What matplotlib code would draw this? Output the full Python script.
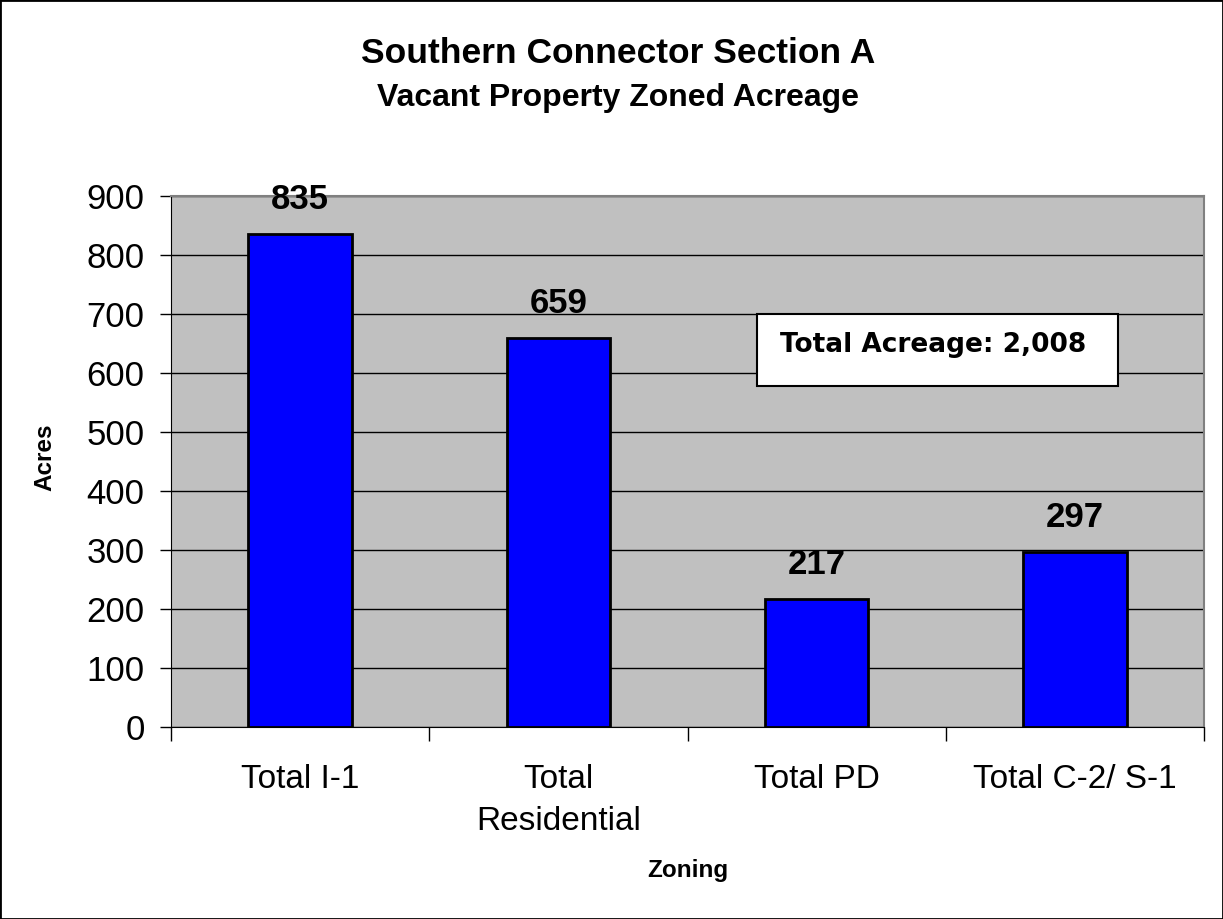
import matplotlib
matplotlib.use("Agg")
import matplotlib.pyplot as plt
from matplotlib.patches import Rectangle

categories = ["Total I-1", "Total\nResidential", "Total PD", "Total C-2/ S-1"]
values = [835, 659, 217, 297]
yticks = [0, 100, 200, 300, 400, 500, 600, 700, 800, 900]
title_lines = ["Southern Connector Section A", "Vacant Property Zoned Acreage"]
total_text = "Total Acreage: 2,008"

plt.rcParams['font.family'] = ['Liberation Sans', 'DejaVu Sans']

W, H = 1223, 919
fig = plt.figure(figsize=(W/100, H/100), dpi=100)
ax = fig.add_axes([171/W, 1 - 727/H, (1204-171)/W, (727-196)/H])
ax.set_facecolor('#C0C0C0')

x = list(range(len(categories)))
ax.bar(x, values, width=0.4, color='#0000FF', edgecolor='black', linewidth=2, zorder=3)
for xi, v in zip(x, values):
    ax.annotate(f"{v}", (xi, v), xytext=(0, 18), textcoords='offset points',
                ha='center', va='baseline', fontsize=25, fontweight='bold', zorder=4)

ax.set_xlim(-0.5, len(categories) - 0.5)
ax.set_ylim(0, 900)
ax.set_yticks(yticks)
ax.set_yticklabels([str(t) for t in yticks], fontsize=25)
ax.yaxis.grid(True, color='black', linewidth=1)
ax.set_axisbelow(True)
ax.tick_params(axis='y', direction='out', length=8, width=1, pad=11)

ax.set_xticks(x)
ax.set_xticklabels(categories, fontsize=24, linespacing=1.45)
ax.set_xticks([i - 0.5 for i in range(len(categories) + 1)], minor=True)
ax.tick_params(axis='x', which='major', length=0, pad=27)
ax.tick_params(axis='x', which='minor', length=10, width=1, direction='out')

for s in ['top', 'right']:
    ax.spines[s].set_color('#808080')
    ax.spines[s].set_linewidth(1.5)
ax.spines['left'].set_color('black')
ax.spines['bottom'].set_color('black')

fig.text(45/W, 1 - 457/H, "Acres", rotation=90, ha='center', va='center',
         fontsize=17.5, fontweight='bold')
fig.text(688/W, 1 - 877/H, "Zoning", ha='center', va='baseline',
         fontsize=17.5, fontweight='bold')

fig.text(618/W, 1 - 63/H, title_lines[0], ha='center', va='baseline',
         fontsize=25.5, fontweight='bold')
fig.text(618/W, 1 - 106/H, title_lines[1], ha='center', va='baseline',
         fontsize=23, fontweight='bold')

# total acreage box
bx0, bx1, by0, by1 = 757, 1118, 314, 386
fig.patches.append(Rectangle((bx0/W, 1 - by1/H), (bx1-bx0)/W, (by1-by0)/H,
                             transform=fig.transFigure, facecolor='white',
                             edgecolor='black', linewidth=1.5, zorder=5))
fig.text(780/W, 1 - 352/H, total_text, ha='left', va='baseline',
         fontsize=19, fontweight='bold', family='DejaVu Sans', zorder=6)

# figure border
fig.patches.append(Rectangle((0, 0), 1, 1, transform=fig.transFigure,
                             facecolor='none', edgecolor='black', linewidth=2, zorder=10))

fig.savefig("out.png", dpi=100)
